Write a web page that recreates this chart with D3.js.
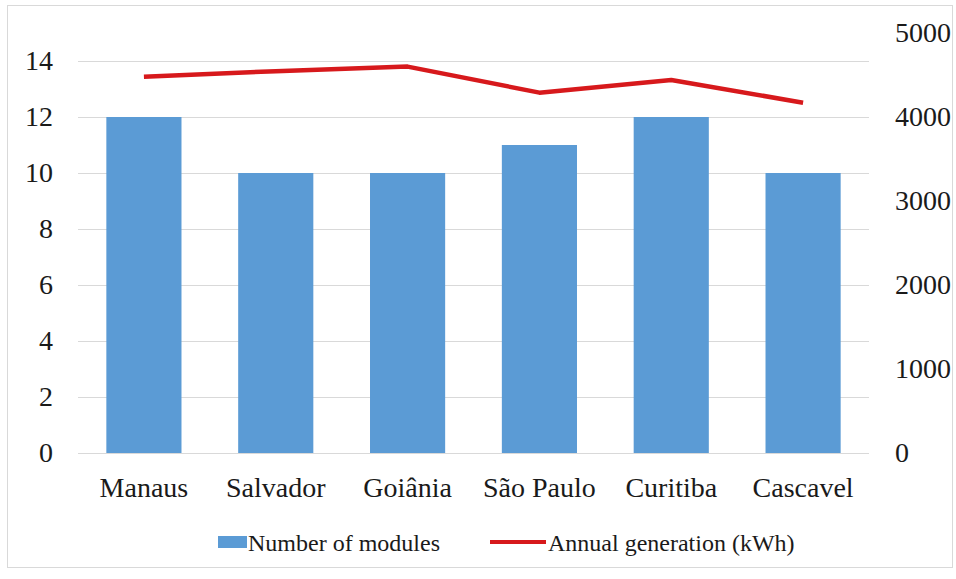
<!DOCTYPE html>
<html>
<head>
<meta charset="utf-8">
<script src="https://cdn.jsdelivr.net/npm/d3@7"></script>
<style>
  body { margin: 0; background: #fff; }
  svg, svg text { font-family: 'Tinos', 'Liberation Serif', 'Nimbus Roman', 'FreeSerif', 'Times New Roman', serif !important; }
</style>
</head>
<body>
<script>
var cities = ['Manaus', 'Salvador', 'Goiânia', 'São Paulo', 'Curitiba', 'Cascavel'];
var modules = [12, 10, 10, 11, 12, 10];
var generation = [4480, 4545, 4600, 4290, 4440, 4170];
var leftTicks = [0, 2, 4, 6, 8, 10, 12, 14];
var rightTicks = [0, 1000, 2000, 3000, 4000, 5000];

var SERIF = "'Tinos', 'Liberation Serif', 'Nimbus Roman', 'FreeSerif', serif";
var W = 956, H = 579;
var svg = d3.select('body').append('svg')
  .attr('width', W).attr('height', H)
  .attr('font-family', SERIF);

// outer frame
svg.append('rect')
  .attr('x', 7.5).attr('y', 5.5).attr('width', 945).attr('height', 562)
  .attr('fill', 'none').attr('stroke', '#d9d9d9');

var plotTop = 33, plotBottom = 453, plotLeft = 78, plotRight = 869;

var x = d3.scaleBand().domain(cities).range([plotLeft, plotRight]).paddingInner(0.43).paddingOuter(0.215);
var yL = d3.scaleLinear().domain([0, 15]).range([plotBottom, plotTop]);
var yR = d3.scaleLinear().domain([0, 5000]).range([plotBottom, plotTop]);

// gridlines
svg.append('g').selectAll('line').data(leftTicks).enter().append('line')
  .attr('x1', plotLeft).attr('x2', plotRight)
  .attr('y1', function(d){ return Math.round(yL(d)) + 0.5; })
  .attr('y2', function(d){ return Math.round(yL(d)) + 0.5; })
  .attr('stroke', '#d9d9d9').attr('stroke-width', 1.2);

function styleText(sel, size){
  sel.attr('font-family', SERIF).attr('font-size', size);
  sel.selectAll('text').attr('font-family', SERIF).attr('font-size', size).attr('fill', '#1a1a1a');
}

// left axis
var axL = svg.append('g').attr('transform', 'translate(' + plotLeft + ',0)')
  .call(d3.axisLeft(yL).tickValues(leftTicks).tickSize(0).tickPadding(25));
axL.select('.domain').remove();
styleText(axL, 28);

// right axis
var axR = svg.append('g').attr('transform', 'translate(' + plotRight + ',0)')
  .call(d3.axisRight(yR).tickValues(rightTicks).tickFormat(d3.format('d')).tickSize(0).tickPadding(26));
axR.select('.domain').remove();
styleText(axR, 28);

// bars
svg.append('g').selectAll('rect').data(modules).enter().append('rect')
  .attr('x', function(d, i){ return x(cities[i]); })
  .attr('width', x.bandwidth())
  .attr('y', function(d){ return yL(d); })
  .attr('height', function(d){ return plotBottom - yL(d); })
  .attr('fill', '#5b9bd5');

// line
var line = d3.line()
  .x(function(d, i){ return x(cities[i]) + x.bandwidth() / 2; })
  .y(function(d){ return yR(d); });
svg.append('path').datum(generation)
  .attr('d', line)
  .attr('fill', 'none').attr('stroke', '#d7191c').attr('stroke-width', 4.5)
  .attr('stroke-linejoin', 'round');

// category axis
var axX = svg.append('g').attr('transform', 'translate(0,' + plotBottom + ')')
  .call(d3.axisBottom(x).tickSize(0).tickPadding(24));
axX.select('.domain').remove();
styleText(axX, 28);

// legend
var lg = svg.append('g');
lg.append('rect').attr('x', 218).attr('y', 536).attr('width', 29).attr('height', 12).attr('fill', '#5b9bd5');
lg.append('text').attr('x', 248).attr('y', 551).text('Number of modules');
lg.append('line').attr('x1', 490).attr('x2', 546).attr('y1', 542).attr('y2', 542)
  .attr('stroke', '#d7191c').attr('stroke-width', 4);
lg.append('text').attr('x', 548).attr('y', 551).text('Annual generation (kWh)');
styleText(lg, 24);
</script>
</body>
</html>
